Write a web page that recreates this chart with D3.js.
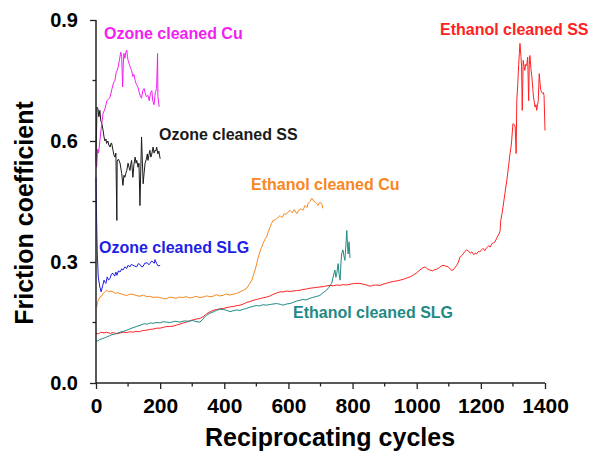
<!DOCTYPE html>
<html><head><meta charset="utf-8">
<script src="https://cdn.jsdelivr.net/npm/d3@7"></script>
<style>body{margin:0;background:#fff}svg{display:block}</style>
</head><body>
<svg id="c" width="590" height="451"></svg>
<script>
const xTicks = [0,200,400,600,800,1000,1200,1400];
const yTicks = [0.0,0.3,0.6,0.9];
const seriesNames = ["Ozone cleaned Cu","Ozone cleaned SS","Ozone cleaned SLG","Ethanol cleaned Cu","Ethanol cleaned SLG","Ethanol cleaned SS"];

const ozoneCu = [[0,0.55],[2,0.535],[5,0.58],[8,0.57],[12,0.60],[16,0.63],[22,0.668],[28,0.68],[34,0.70],[40,0.705],[44,0.709],[50,0.73],[55,0.745],[59,0.75],[63,0.77],[66,0.775],[69,0.783],[73,0.80],[77,0.82],[80,0.81],[83,0.734],[85,0.79],[87,0.817],[90,0.805],[93,0.82],[96,0.825],[98,0.81],[100,0.80],[104,0.79],[108,0.78],[111,0.775],[115,0.76],[118,0.765],[122,0.75],[126,0.74],[131,0.733],[135,0.72],[139,0.71],[142,0.706],[146,0.725],[150,0.73],[153,0.72],[157,0.71],[162,0.713],[166,0.70],[170,0.72],[174,0.725],[177,0.70],[181,0.69],[185,0.72],[189,0.73],[192,0.817],[193,0.71],[197,0.685]];

const ozoneSS = [[0,0.55],[3,0.684],[6,0.68],[9,0.66],[12,0.676],[15,0.65],[18,0.644],[22,0.627],[25,0.61],[28,0.60],[31,0.605],[33,0.594],[37,0.60],[40,0.59],[44,0.585],[47,0.595],[49,0.594],[53,0.577],[56,0.565],[59,0.56],[62,0.57],[65,0.403],[66,0.55],[70,0.555],[75,0.545],[78,0.53],[80,0.52],[84,0.49],[87,0.515],[90,0.51],[93,0.52],[96,0.527],[100,0.545],[103,0.535],[106,0.527],[109,0.545],[111,0.552],[115,0.51],[118,0.54],[122,0.56],[125,0.545],[127,0.552],[131,0.535],[134,0.545],[137,0.44],[142,0.61],[147,0.494],[150,0.52],[153,0.545],[157,0.555],[160,0.568],[162,0.552],[165,0.565],[168,0.577],[171,0.56],[174,0.568],[178,0.585],[181,0.57],[184,0.577],[187,0.575],[189,0.585],[193,0.568],[196,0.575],[200,0.556]];

const ozoneSLG = [[0,0.51],[2,0.40],[4,0.32],[7,0.263],[12,0.238],[16,0.226],[21,0.242],[25,0.255],[28,0.25],[31,0.247],[35,0.263],[39,0.255],[44,0.26],[48,0.27],[53,0.272],[58,0.265],[62,0.275],[65,0.267],[70,0.278],[75,0.275],[80,0.283],[84,0.28],[90,0.288],[96,0.284],[100,0.292],[106,0.288],[110,0.294],[115,0.292],[120,0.29],[127,0.288],[132,0.296],[137,0.294],[142,0.288],[147,0.289],[152,0.297],[160,0.298],[165,0.293],[168,0.296],[173,0.302],[178,0.30],[182,0.297],[184,0.306],[189,0.296],[194,0.29],[200,0.292]];

const ethanolCu = [[0,0.19],[2,0.188],[5,0.2],[7,0.205],[12,0.213],[17,0.215],[22,0.222],[27,0.225],[33,0.23],[40,0.226],[46,0.228],[53,0.226],[60,0.222],[67,0.224],[75,0.222],[85,0.219],[96,0.217],[105,0.22],[115,0.22],[125,0.217],[137,0.215],[148,0.218],[158,0.214],[168,0.215],[178,0.212],[190,0.213],[200,0.212],[210,0.209],[220,0.209],[230,0.213],[240,0.212],[250,0.21],[260,0.213],[271,0.212],[282,0.214],[292,0.211],[302,0.212],[312,0.215],[322,0.212],[334,0.213],[345,0.216],[355,0.214],[365,0.215],[375,0.219],[385,0.216],[396,0.217],[405,0.221],[415,0.218],[427,0.22],[438,0.222],[449,0.226],[460,0.23],[470,0.235],[478,0.245],[486,0.255],[491,0.268],[496,0.28],[501,0.295],[506,0.312],[513,0.33],[521,0.346],[526,0.355],[532,0.362],[537,0.375],[543,0.387],[547,0.395],[552,0.403],[560,0.405],[567,0.41],[574,0.415],[580,0.41],[587,0.42],[593,0.418],[600,0.425],[605,0.428],[612,0.422],[618,0.43],[626,0.42],[632,0.428],[640,0.432],[645,0.428],[652,0.44],[658,0.435],[661,0.445],[667,0.45],[673,0.458],[678,0.452],[683,0.449],[688,0.445],[692,0.44],[698,0.448],[704,0.445],[707,0.433]];

const ethanolSLG = [[0,0.105],[5,0.104],[12,0.108],[20,0.11],[27,0.112],[33,0.114],[42,0.117],[50,0.12],[58,0.121],[65,0.123],[75,0.126],[85,0.128],[96,0.131],[105,0.134],[115,0.137],[125,0.14],[137,0.143],[150,0.147],[160,0.146],[170,0.149],[178,0.148],[190,0.15],[200,0.149],[210,0.152],[220,0.151],[232,0.15],[245,0.153],[255,0.152],[262,0.151],[275,0.154],[290,0.153],[302,0.155],[312,0.152],[324,0.151],[333,0.158],[340,0.165],[345,0.168],[355,0.173],[365,0.176],[375,0.18],[387,0.183],[398,0.182],[408,0.18],[418,0.177],[427,0.179],[438,0.181],[449,0.18],[460,0.183],[470,0.185],[480,0.188],[490,0.19],[500,0.192],[510,0.191],[520,0.194],[532,0.193],[545,0.195],[555,0.196],[563,0.197],[575,0.195],[583,0.193],[595,0.196],[605,0.197],[615,0.2],[625,0.203],[636,0.205],[645,0.207],[655,0.206],[667,0.21],[675,0.212],[685,0.214],[698,0.217],[705,0.222],[712,0.226],[719,0.23],[725,0.236],[730,0.242],[735,0.247],[740,0.265],[745,0.28],[748,0.262],[751,0.272],[755,0.296],[758,0.27],[761,0.255],[764,0.3],[766,0.32],[770,0.33],[773,0.315],[776,0.304],[779,0.34],[782,0.378],[784,0.345],[786,0.32],[789,0.35],[792,0.31]];

const ethanolSS = [[0,0.123],[8,0.122],[15,0.126],[25,0.124],[33,0.126],[45,0.123],[55,0.125],[65,0.122],[75,0.124],[85,0.126],[95,0.125],[105,0.127],[115,0.126],[125,0.128],[135,0.127],[145,0.13],[158,0.131],[170,0.133],[180,0.134],[190,0.136],[200,0.136],[210,0.138],[220,0.14],[230,0.14],[240,0.141],[252,0.144],[262,0.146],[272,0.149],[283,0.151],[295,0.155],[305,0.157],[315,0.159],[324,0.16],[333,0.164],[340,0.168],[345,0.172],[355,0.176],[365,0.18],[375,0.182],[387,0.184],[398,0.185],[408,0.187],[420,0.189],[430,0.19],[440,0.192],[449,0.193],[460,0.196],[470,0.2],[480,0.202],[490,0.205],[500,0.207],[510,0.209],[520,0.211],[532,0.213],[543,0.216],[553,0.22],[563,0.223],[574,0.226],[585,0.226],[595,0.228],[605,0.227],[614,0.228],[625,0.229],[636,0.23],[645,0.232],[656,0.233],[667,0.235],[677,0.236],[688,0.237],[698,0.238],[710,0.239],[720,0.241],[730,0.242],[740,0.241],[750,0.243],[761,0.242],[770,0.244],[780,0.243],[792,0.245],[800,0.246],[810,0.247],[823,0.247],[832,0.245],[843,0.243],[854,0.24],[862,0.242],[872,0.243],[886,0.242],[895,0.245],[905,0.247],[917,0.25],[928,0.252],[938,0.253],[948,0.255],[958,0.257],[968,0.26],[979,0.263],[988,0.267],[998,0.272],[1010,0.28],[1018,0.285],[1026,0.288],[1033,0.283],[1041,0.28],[1050,0.278],[1056,0.281],[1062,0.282],[1070,0.286],[1077,0.29],[1082,0.292],[1090,0.29],[1098,0.288],[1104,0.283],[1110,0.279],[1113,0.28],[1118,0.285],[1125,0.292],[1130,0.3],[1135,0.312],[1140,0.316],[1145,0.32],[1150,0.326],[1156,0.33],[1162,0.327],[1167,0.322],[1172,0.325],[1178,0.318],[1182,0.322],[1187,0.32],[1192,0.326],[1197,0.325],[1202,0.33],[1207,0.334],[1212,0.328],[1218,0.335],[1224,0.34],[1229,0.337],[1234,0.345],[1240,0.348],[1244,0.35],[1250,0.36],[1254,0.366],[1258,0.372],[1260,0.378],[1262,0.403],[1266,0.42],[1269,0.436],[1275,0.47],[1281,0.503],[1286,0.535],[1291,0.569],[1294,0.585],[1296,0.60],[1300,0.643],[1305,0.64],[1307,0.635],[1310,0.569],[1312,0.70],[1315,0.74],[1318,0.79],[1320,0.817],[1322,0.842],[1325,0.81],[1327,0.784],[1329,0.676],[1332,0.80],[1335,0.785],[1337,0.775],[1340,0.79],[1343,0.787],[1346,0.808],[1349,0.70],[1351,0.79],[1353,0.812],[1356,0.78],[1359,0.759],[1362,0.73],[1364,0.709],[1367,0.695],[1369,0.684],[1372,0.69],[1374,0.676],[1377,0.69],[1379,0.70],[1382,0.767],[1385,0.74],[1387,0.726],[1390,0.72],[1393,0.718],[1395,0.72],[1397,0.713],[1400,0.626]];

const seriesData = [ozoneCu, ozoneSS, ozoneSLG, ethanolCu, ethanolSLG, ethanolSS];
const seriesColors = ["#f21ef2","#1a1a1a","#1e1ee6","#f7871f","#1f8a84","#ff2222"];
const labelPos = [[104,39],[159,140],[99,253],[251,190],[293,318],[440,35]];

const svg = d3.select("#c");
const x = d3.scaleLinear().domain([0,1400]).range([96,545]);
const y = d3.scaleLinear().domain([0,0.9]).range([383,20]);

const line = d3.line().x(d=>x(d[0])).y(d=>y(d[1]));

const order = [5,4,3,2,1,0];
order.forEach(i=>{
  svg.append("path").datum(seriesData[i])
    .attr("fill","none").attr("stroke",seriesColors[i])
    .attr("stroke-width",1).attr("stroke-linejoin","round")
    .attr("d",line);
});

const font = "Liberation Sans, Arial, sans-serif";

const xMinor = d3.range(100,1400,200);
const yMinor = [0.15,0.45,0.75];
const gx = svg.append("g").attr("transform","translate(0,383)");
gx.call(d3.axisBottom(x).tickValues(xTicks).tickSize(6).tickPadding(9).tickFormat(d3.format("d")));
xMinor.forEach(v=>gx.append("line").attr("x1",x(v)).attr("x2",x(v)).attr("y1",0).attr("y2",3.5).attr("stroke","#222").attr("stroke-width",1.3));
const gy = svg.append("g").attr("transform","translate(96,0)");
gy.call(d3.axisLeft(y).tickValues(yTicks).tickSize(6).tickPadding(12).tickFormat(d3.format(".1f")));
yMinor.forEach(v=>gy.append("line").attr("x1",0).attr("x2",-3.5).attr("y1",y(v)).attr("y2",y(v)).attr("stroke","#222").attr("stroke-width",1.3));

[gx,gy].forEach(g=>{
  g.selectAll(".tick line").attr("stroke","#222").attr("stroke-width",1.3);
  g.selectAll(".tick text").attr("font-family",font).attr("font-weight","bold").attr("fill","#000");
});
gx.selectAll(".tick text").attr("font-size","21px");
gy.selectAll(".tick text").attr("font-size","20px");
gx.select(".domain").attr("d","M96,0H545").attr("stroke","#222").attr("stroke-width",1.5);
gy.select(".domain").attr("d","M0,383V20").attr("stroke","#222").attr("stroke-width",1.5);

svg.append("text").attr("x",330).attr("y",446).attr("text-anchor","middle")
  .attr("font-family",font).attr("font-weight","bold").attr("font-size","25px").text("Reciprocating cycles");
svg.append("text").attr("transform","translate(33,213) rotate(-90)").attr("text-anchor","middle")
  .attr("font-family",font).attr("font-weight","bold").attr("font-size","25px").text("Friction coefficient");

seriesNames.forEach((n,i)=>{
  svg.append("text").attr("x",labelPos[i][0]).attr("y",labelPos[i][1])
    .attr("font-family",font).attr("font-weight","bold").attr("font-size","16px")
    .attr("fill",seriesColors[i]).text(n);
});
</script>
</body></html>
